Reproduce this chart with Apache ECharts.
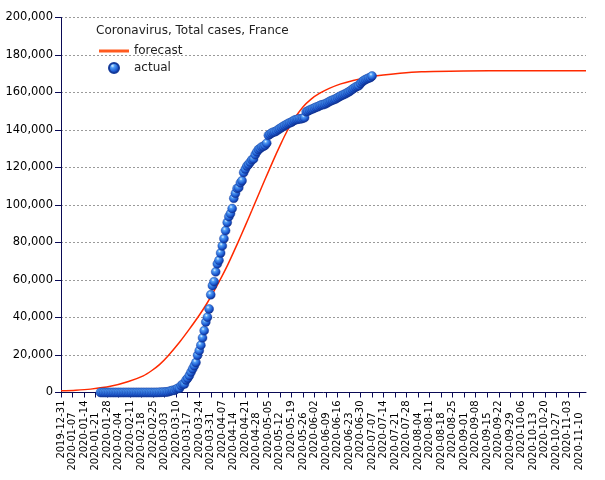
<!DOCTYPE html>
<html><head><meta charset="utf-8">
<script src="https://cdn.jsdelivr.net/npm/echarts@6/dist/echarts.min.js"></script>
<style>html,body{margin:0;padding:0;background:#fff}#c{width:605px;height:480px}</style>
</head><body><div id="c"></div>
<script>
// ---- data ----
const axisStart = '2019-12-31';
const axisEnd = '2020-11-14';
const titleText = 'Coronavirus, Total cases, France';
const seriesNames = ['forecast', 'actual'];
const yMax = 200000, yStep = 20000;

const forecastDates = ['2019-12-31','2020-01-09','2020-01-18','2020-01-30','2020-02-10','2020-02-19','2020-02-24','2020-02-29','2020-03-05','2020-03-12','2020-03-18','2020-03-24','2020-03-29','2020-04-05','2020-04-10','2020-04-16','2020-04-21','2020-04-25','2020-04-29','2020-05-03','2020-05-08','2020-05-12','2020-05-16','2020-05-21','2020-05-26','2020-05-31','2020-06-05','2020-06-11','2020-06-18','2020-06-25','2020-07-07','2020-07-24','2020-08-06','2020-09-01','2020-10-01','2020-11-14'];
const forecastValues = [900,1200,1800,3300,5900,8900,11600,15000,19500,26800,33800,41200,48000,59000,67500,79000,89000,97200,105500,113700,123800,131500,138800,146300,152300,156500,159500,162200,164600,166300,168600,170300,171100,171500,171600,171600];

const actualStart = '2020-01-24';
const actualValues = [
 2,3,3,3,4,5,5,5,
 6,6,6,6,6,6,6,11,11,11,11,11,11,11,12,12,12,12,12,12,12,12,12,12,14,18,38,57,100,
 130,191,204,288,380,656,957,1134,1217,1792,2289,2289,3672,4480,4513,6650,7652,9043,10871,12612,14282,16018,19856,22304,25233,29155,32964,37575,40174,44550,52128,
 56989,59105,64338,68605,70478,74390,78167,82048,86334,90676,93790,95403,98076,103573,106206,108847,109252,111821,112950,117324,119151,120804,121712,122875,124114,124575,126835,128339,129581,130185,
 130979,131287,131863,132967,137150,137779,138421,138854,139063,139519,140227,140734,141356,141919,142411,142903,143427,143845,144163,144806,145279,145555,145746,145960,146000,146300,146600,149700,150100,150600,151000,
 151300,151750,152200,152400,152900,153300,153500,153700,154100,154600,155100,155600,155900,156300,156600,157200,157700,158200,158600,159000,159400,159900,160400,161000,161700,162300,162900,163300,163700,164800,
 165700,166400,166900,167300,167700,168000,168800
];

// ---- build ----
function iso(t){ return new Date(t).toISOString().slice(0,10); }
const DAY = 86400000;
const t0 = Date.parse(axisStart + 'T00:00:00Z'), t1 = Date.parse(axisEnd + 'T00:00:00Z');
const categories = [];
for (let t = t0; t <= t1; t += DAY) categories.push(iso(t));
const aStart = Date.parse(actualStart + 'T00:00:00Z');
const actualData = actualValues.map((v, i) => [iso(aStart + i * DAY), v]);
const forecastData = forecastDates.map((d, i) => [d, forecastValues[i]]);

const axisColor = '#0a0a55';
const font = 'DejaVu Sans';
const sphere = new echarts.graphic.RadialGradient(0.38, 0.32, 0.7, [
  {offset: 0, color: '#dff3ff'},
  {offset: 0.25, color: '#4f9cf5'},
  {offset: 0.7, color: '#1a55cc'},
  {offset: 1, color: '#0b2580'}
]);

const chart = echarts.init(document.getElementById('c'), null, {renderer: 'canvas'});
chart.setOption({
  animation: false,
  backgroundColor: '#fff',
  grid: {left: 61, right: 19, top: 17.5, bottom: 87.5, containLabel: false},
  graphic: [{
    type: 'text', left: 96, top: 25,
    style: {text: titleText, font: '12px "DejaVu Sans"', fill: '#222'}
  }],
  legend: {
    orient: 'vertical', left: 99, top: 45, padding: 0,
    itemWidth: 30, itemHeight: 10, itemGap: 5,
    textStyle: {fontSize: 12, color: '#222', fontFamily: font},
    data: [
      {name: seriesNames[0], icon: 'path://M0,0H30V3H0Z', itemStyle: {color: '#ff5a1f'}},
      {name: seriesNames[1], icon: 'circle', itemStyle: {color: sphere}}
    ]
  },
  xAxis: {
    type: 'category', data: categories, boundaryGap: false,
    axisLine: {lineStyle: {color: axisColor, width: 1}},
    axisTick: {length: 5, interval: (i) => i % 7 === 0, lineStyle: {color: axisColor}},
    axisLabel: {
      rotate: 90, interval: (i) => i % 7 === 0, fontSize: 10, color: '#000', fontFamily: font, margin: 8,
      formatter: (v, i) => ((i / 7) % 2 === 1 ? '{o|' + v + '}' : '{e|' + v + '}'),
      rich: {
        e: {fontSize: 10, fontFamily: font, color: '#000'},
        o: {fontSize: 10, fontFamily: font, color: '#000', padding: [0, 12, 0, 0]}
      }
    },
    splitLine: {show: false}
  },
  yAxis: {
    type: 'value', min: 0, max: yMax, interval: yStep,
    axisLine: {show: true, lineStyle: {color: axisColor, width: 1}},
    axisTick: {show: true, length: 6, lineStyle: {color: axisColor}},
    axisLabel: {fontSize: 11.5, color: '#000', fontFamily: font, margin: 8,
      formatter: (v) => v.toLocaleString('en-US')},
    splitLine: {show: true, lineStyle: {color: '#9a9a9a', type: [2, 2], width: 1}}
  },
  series: [
    {
      name: seriesNames[0], type: 'line', data: forecastData, symbol: 'none',
      smooth: 0.3, lineStyle: {color: '#ff2a00', width: 1.5}, itemStyle: {color: '#ff5a1f'}, z: 2
    },
    {
      name: seriesNames[1], type: 'scatter', data: actualData, symbol: 'circle', symbolSize: 9,
      itemStyle: {color: sphere, borderColor: '#143a9a', borderWidth: 0.4, opacity: 1}, z: 3
    }
  ]
});
</script></body></html>
